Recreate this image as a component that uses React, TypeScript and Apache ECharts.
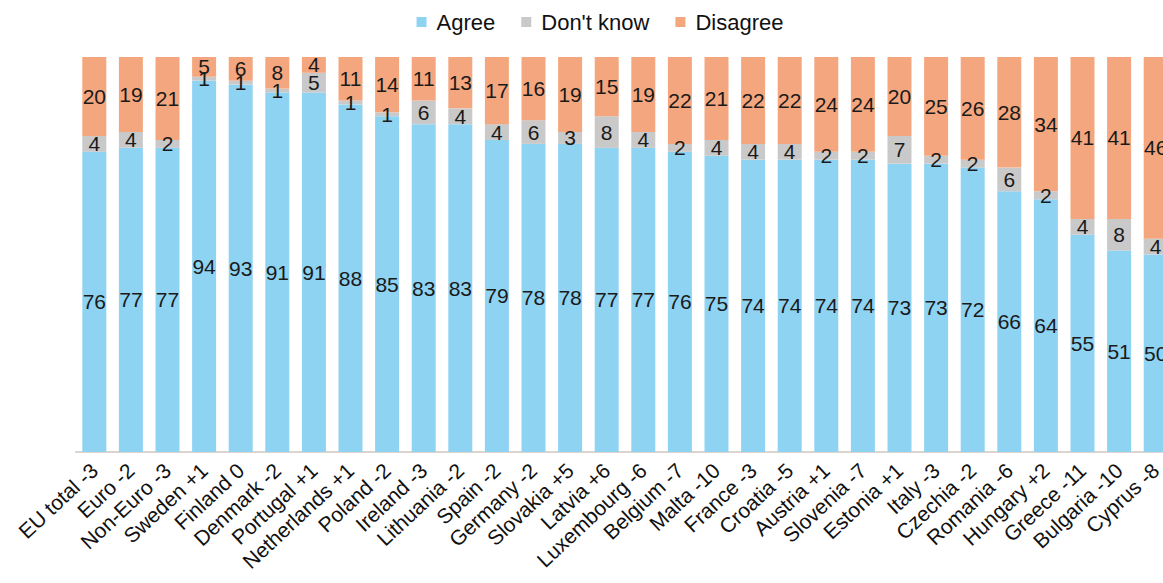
import React, { useEffect, useRef } from "react";
import * as echarts from "echarts";

const categories = [
  "EU total -3", "Euro -2", "Non-Euro -3", "Sweden +1", "Finland 0", "Denmark -2",
  "Portugal +1", "Netherlands +1", "Poland -2", "Ireland -3", "Lithuania -2", "Spain -2",
  "Germany -2", "Slovakia +5", "Latvia +6", "Luxembourg -6", "Belgium -7", "Malta -10",
  "France -3", "Croatia -5", "Austria +1", "Slovenia -7", "Estonia +1", "Italy -3",
  "Czechia -2", "Romania -6", "Hungary +2", "Greece -11", "Bulgaria -10", "Cyprus -8",
];

const agree = [
  76, 77, 77, 94, 93, 91, 91, 88, 85, 83, 83, 79, 78, 78, 77,
  77, 76, 75, 74, 74, 74, 74, 73, 73, 72, 66, 64, 55, 51, 50,
];

const dontKnow = [
  4, 4, 2, 1, 1, 1, 5, 1, 1, 6, 4, 4, 6, 3, 8,
  4, 2, 4, 4, 4, 2, 2, 7, 2, 2, 6, 2, 4, 8, 4,
];

const disagree = [
  20, 19, 21, 5, 6, 8, 4, 11, 14, 11, 13, 17, 16, 19, 15,
  19, 22, 21, 22, 22, 24, 24, 20, 25, 26, 28, 34, 41, 41, 46,
];

const FONT = "'Liberation Sans', Arial, sans-serif";

const valueLabel = {
  show: true,
  position: "inside" as const,
  color: "#1a1a1a",
  fontSize: 21,
  fontFamily: FONT,
};

export default function App() {
  const ref = useRef<HTMLDivElement>(null);

  useEffect(() => {
    if (!ref.current) return;
    const chart = echarts.init(ref.current, null, { renderer: "svg" });
    const makeSeries = (name: string, data: number[], color: string) => ({
      name,
      type: "bar" as const,
      stack: "total",
      data,
      barWidth: 24,
      itemStyle: { color },
      label: valueLabel,
    });
    chart.setOption({
      animation: false,
      backgroundColor: "#ffffff",
      legend: {
        top: 6,
        left: "center",
        itemWidth: 10,
        itemHeight: 10,
        itemGap: 26,
        icon: "rect",
        textStyle: {
          fontSize: 22,
          color: "#111",
          fontFamily: FONT,
          padding: [0, 0, 0, 5],
        },
        data: ["Agree", "Don't know", "Disagree"],
      },
      grid: { left: 76, right: 26, top: 57, bottom: 131, containLabel: false },
      xAxis: {
        type: "category",
        data: categories,
        axisLine: { lineStyle: { color: "#ddd3cf", width: 2 } },
        axisTick: { show: false },
        axisLabel: {
          rotate: 43,
          interval: 0,
          margin: 15,
          fontSize: 21,
          color: "#111",
          fontFamily: FONT,
        },
      },
      yAxis: {
        type: "value",
        min: 0,
        max: 100,
        show: false,
        splitLine: { show: false },
      },
      series: [
        makeSeries("Agree", agree, "#8fd3f3"),
        makeSeries("Don't know", dontKnow, "#c9c9c9"),
        makeSeries("Disagree", disagree, "#f4a77f"),
      ],
    });
    return () => chart.dispose();
  }, []);

  return (
    <div
      style={{
        position: "fixed",
        left: 0,
        top: 0,
        width: 1163,
        height: 583,
        overflow: "hidden",
        background: "#fff",
      }}
    >
      <div ref={ref} style={{ width: 1200, height: 583 }} />
    </div>
  );
}
